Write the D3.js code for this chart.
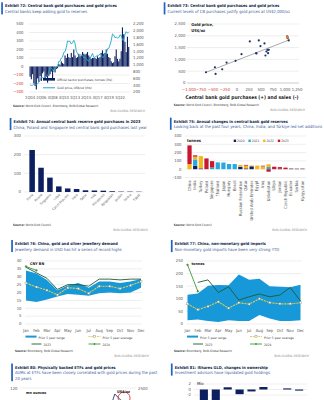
<!DOCTYPE html>
<html><head><meta charset="utf-8">
<script src="https://cdn.jsdelivr.net/npm/d3@7"></script>
<style>html,body{margin:0;padding:0;background:#fff;} svg{display:block;}</style>
</head><body>
<svg id="c" width="324" height="400"></svg>
<script>
// ---------------- DATA ----------------
// Exhibit 72 – quarterly, 1Q04 .. 4Q23
const ex72Years = [2004,2005,2006,2007,2008,2009,2010,2011,2012,2013,2014,2015,2016,2017,2018,2019,2020,2021,2022,2023];
const ex72Purchases = [
 -120,-150,-90,-200, -230,-270,-140,-180, -110,-170,-80,-60, -140,-120,-190,-110,
 -90,-60,-150,-40, -70,-30,-20,30, 20,60,40,30, 130,100,150,110,
 100,160,110,200, 130,100,110,150, 120,130,170,150, 140,150,170,130,
 110,90,100,100, 100,90,120,100, 110,160,190,150, 160,200,150,110,
 100,60,40,50, 120,200,90,60, 90,180,460,380, 290,170,350,230];
const ex72Gold = [
 410,395,400,435, 427,427,440,485, 554,628,622,614, 650,667,680,788,
 925,896,872,795, 908,922,960,1100, 1109,1197,1227,1367, 1386,1506,1702,1688,
 1691,1609,1652,1718, 1632,1415,1326,1272, 1293,1288,1282,1201, 1218,1192,1124,1105,
 1183,1260,1335,1222, 1219,1257,1278,1275, 1329,1306,1213,1226, 1304,1310,1472,1481,
 1583,1711,1909,1874, 1794,1816,1789,1795, 1877,1871,1729,1726, 1890,1976,1928,1971];
const ex72TickLabels = ["1Q04","2Q06","3Q08","4Q10","1Q13","2Q15","3Q17","4Q19","1Q22"];
const ex72LeftTicks = [500,400,300,200,100,0,-100,-200,-300];
const ex72RightTicks = [2200,2000,1800,1600,1400,1200,1000,800,600,400,200];

// Exhibit 73 – scatter
const ex73Purch = [-647,-460,-446,-308,-217,-30,94,267,399,406,454,489,572,593,613,634,648,662,1043,1057,1077];
const ex73Price = [455,668,384,582,866,938,1222,1761,1264,1250,1804,1563,1676,1165,1335,1406,1264,1406,1974,1903,1804];
const ex73Latest = [1050,1945];
const ex73TrendX = [-650,1100];
const ex73TrendY = [450,1835];
const ex73XTicks = [-1000,-750,-500,-250,0,250,500,750,1000,1250];
const ex73YTicks = [0,500,1000,1500,2000,2500];

// Exhibit 74
const ex74Countries = ["China","Poland","Singapore","Libya","Czech Republic","India","Qatar","Iraq","Philippines","Kyrgyzstan","Jordan","Serbia","Egypt"];
const ex74Values = [225,130,77,30,19,16,9,8,7,4,2,2,1.5];
const ex74Ticks = [0,100,200,300];

// Exhibit 75
const ex75Countries = ["China","India","Turkey","Poland","Singapore","Thailand","Japan","Hungary","Brazil","Russian Federation","Qatar","United Arab Emirates","Egypt","Iraq","Uzbekistan","Libya","Jordan","Czech Republic","Ecuador","Serbia","Kyrgyzstan"];
const ex75Y2020 = [0,41,10,0,0,0,0,0,0,28,10,35,0,0,0,0,5,0,4,3,2];
const ex75Y2021 = [0,77,0,0,20,82,80,63,62,3,0,0,0,0,26,0,0,0,2,2,2];
const ex75Y2022 = [62,33,148,0,0,0,0,0,0,21,33,10,44,34,34,0,0,0,0,1,3];
const ex75Y2023 = [225,16,0,130,77,0,0,0,0,0,9,0,0,8,-30,30,20,19,4,3,4];
const ex75Years = ["2020","2021","2022","2023"];
const ex75Ticks = [-100,0,100,200,300,400];

// Exhibit 76 – China jewellery demand, CNY bn
const months = ["Jan","Feb","Mar","Apr","May","Jun","Jul","Aug","Sep","Oct","Nov","Dec"];
const ex76Max = [34,32,28,21.5,24.5,26,23,27,27,26,27,28.5];
const ex76Min = [15,14,15.5,17.5,19,18.5,18,19.5,20,19.5,20,23];
const ex76Avg = [26,23.5,21.5,18.5,23,22.5,19.5,24,24,22.5,24.5,27];
const ex76Y2023 = [36,32.5,29,22,25,25,24,28.5,28.5,28,28.5,28.5];
const ex76Y2024 = [36.5,34];
const ex76Ticks = [0,5,10,15,20,25,30,35,40];

// Exhibit 77 – China non-monetary gold imports, tonnes
const ex77Max = [116,121,152,155,154,196,176,180,150,148,146,156];
const ex77Min = [15,18,12,8,15,12,12,36,22,12,12,15];
const ex77Avg = [80,57,70,88,63,84,79,100,85,80,80,84];
const ex77Y2023 = [null,165,175,125,148,95,108,119,108,115,145,91];
const ex77Y2024 = [235,130];
const ex77Ticks = [0,50,100,150,200,250];

// Exhibit 80 – ETF holdings (mn oz), annual
const ex80Years = [2004,2005,2006,2007,2008,2009,2010,2011,2012,2013,2014,2015,2016,2017,2018,2019,2020,2021,2022,2023,2024];
const ex80Holdings = [4,10,20,30,38,55,65,72,85,60,53,48,60,65,67,80,110,100,95,85,83];
const ex80Circle = [2021.6,2080];

// Exhibit 81 – GLD ownership changes (mio)
const ex81Cats = ["A","B","C","D","E","F","G","H","I"];
const ex81Values = [-8,-8,0.8,-1.7,-0.7,0.9,0,0.4,-0.4];
const ex81Ticks = [2,0,-2];

// ---------------- STYLE ----------------
const F = "'Liberation Sans Narrow','DejaVu Sans Condensed','Roboto Condensed','Liberation Sans',sans-serif";
const navy = "#0d1f5e", teal = "#23a6c9", band = "#1798d8", titleCol = "#0b1b45", subCol = "#41609a";
const accent = "#1d62c4", grid = "#dcdcdc", tickCol = "#555", neg = "#d33a2f";
const c2020 = "#0d1f5e", c2021 = "#27a9df", c2022 = "#f4b71c", c2023 = "#c8172f";
const svg = d3.select("#c");
svg.append("rect").attr("width",324).attr("height",400).attr("fill","#fff");
const refs = {};

function txt(g,x,y,s,o={}){
  const t=g.append("text").attr("x",x).attr("y",y).text(s).attr("font-family",F)
    .attr("font-size",o.size||3.8).attr("fill",o.fill||tickCol).attr("text-anchor",o.anchor||"start")
    .attr("font-weight",o.weight||"normal").attr("class",o.cls||"tick");
  if(o.rotate!=null) t.attr("transform",`rotate(${o.rotate},${x},${y})`);
  return t;
}
function header(x,y,title,subs){
  svg.append("rect").attr("x",x-3.8).attr("y",y-5).attr("width",1.7).attr("height",6.5+subs.length*5.6).attr("fill",accent);
  const t=txt(svg,x,y,title,{size:4.7,weight:"bold",fill:titleCol,cls:"title"});
  const ss=subs.map((s,i)=>txt(svg,x,y+5.5*(i+1),s,{size:4.4,fill:subCol,cls:"sub"}));
  return [t,ss[0]];
}
function source(x,y,s,rx){
  const t=svg.append("text").attr("x",x).attr("y",y).attr("font-family",F).attr("font-size",3.1).attr("fill","#333").attr("class","src");
  t.append("tspan").attr("font-weight","bold").text("Source: ");
  t.append("tspan").text(s);
  const b=txt(svg,rx,y+5.2,"BofA GLOBAL RESEARCH",{size:2.8,anchor:"end",fill:"#8a8a8a",cls:"bofa"});
  return [t,b];
}
function hgrid(g,scale,ticks,x0,x1,col){
  g.selectAll(null).data(ticks).join("line").attr("x1",x0).attr("x2",x1)
   .attr("y1",d=>scale(d)).attr("y2",d=>scale(d)).attr("stroke",col||grid).attr("stroke-width",0.5);
}

// ---------------- EXHIBIT 72 ----------------
(function(){
  const h=header(5,7.3,"Exhibit 72: Central bank gold purchases and gold prices",["Central banks keep adding gold to reserves"]);
  refs.title=[h[0],112]; refs.sub=[h[1],82];
  const g=svg.append("g");
  const q=[]; ex72Years.forEach(y=>[1,2,3,4].forEach(k=>q.push(k+"Q"+String(y).slice(2))));
  const x=d3.scaleBand().domain(q).range([29.4,129.4]).padding(0.12);
  const yL=d3.scaleLinear().domain([-300,500]).range([92,24]);
  const yR=d3.scaleLinear().domain([200,2200]).range([92,24]);
  hgrid(g,yL,ex72LeftTicks,29,130);
  g.selectAll(null).data(ex72Purchases).join("rect")
   .attr("x",(d,i)=>x(q[i])).attr("width",x.bandwidth())
   .attr("y",d=>yL(Math.max(0,d))).attr("height",d=>Math.abs(yL(d)-yL(0))).attr("fill",navy);
  g.append("path").datum(ex72Gold).attr("fill","none").attr("stroke",teal).attr("stroke-width",0.9)
   .attr("d",d3.line().x((d,i)=>x(q[i])+x.bandwidth()/2).y(d=>yR(d)));
  ex72LeftTicks.forEach(t=>txt(g,23.5,yL(t)+1.3,d3.format(",")(t),{anchor:"end",fill:t<0?neg:tickCol}));
  ex72RightTicks.forEach(t=>{const n=txt(g,133,yR(t)+1.3,d3.format(",")(t)); if(t===2200) refs.tick=[n,10.7];});
  ex72TickLabels.forEach(l=>txt(g,x(l)+x.bandwidth()/2,99,l,{anchor:"middle"}));
  g.append("rect").attr("x",43).attr("y",78).attr("width",12).attr("height",2.6).attr("fill",navy);
  refs.leg=[txt(g,57,80.8,"Official sector purchases, tonnes (lhs)",{size:3.7,fill:"#333",cls:"leg"}),55];
  g.append("line").attr("x1",43).attr("x2",55).attr("y1",87.8).attr("y2",87.8).attr("stroke",teal).attr("stroke-width",1);
  txt(g,57,89,"Gold price, US$/oz (rhs)",{size:3.7,fill:"#333",cls:"leg"});
  const s=source(13,107,"World Gold Council, Bloomberg, BofA Global Research",145);
  refs.src=[s[0],85]; refs.bofa=[s[1],35];
})();

// ---------------- EXHIBIT 73 ----------------
(function(){
  header(167.5,7.3,"Exhibit 73: Central bank gold purchases and gold prices",["Current levels of CB purchases justify gold prices at US$2,000/oz"]);
  const g=svg.append("g");
  const x=d3.scaleLinear().domain([-1000,1250]).range([189,297]);
  const y=d3.scaleLinear().domain([0,2500]).range([83,24]);
  hgrid(g,y,ex73YTicks.filter(d=>d>0),187,299);
  g.append("line").attr("x1",187).attr("x2",299).attr("y1",y(0)).attr("y2",y(0)).attr("stroke","#999").attr("stroke-width",0.5);
  ex73YTicks.forEach(t=>txt(g,185.3,y(t)+1.3,d3.format(",")(t),{anchor:"end"}));
  ex73XTicks.forEach(t=>txt(g,x(t),90.6,d3.format(",")(t),{anchor:"middle",fill:t<0?neg:tickCol}));
  g.append("line").attr("x1",x(ex73TrendX[0])).attr("x2",x(ex73TrendX[1]))
   .attr("y1",y(ex73TrendY[0])).attr("y2",y(ex73TrendY[1])).attr("stroke","#555").attr("stroke-width",0.5);
  g.selectAll(null).data(ex73Purch).join("circle").attr("cx",d=>x(d)).attr("cy",(d,i)=>y(ex73Price[i]))
   .attr("r",1.1).attr("fill","#1e3466");
  g.append("circle").attr("cx",x(ex73Latest[0])).attr("cy",y(ex73Latest[1])).attr("r",1.6).attr("fill","#e8762b");
  refs.gp=[txt(g,191.3,26,"Gold price,",{size:4.2,weight:"bold",fill:"#222",cls:"gp"}),22];
  txt(g,191.3,31.7,"US$/oz",{size:4.2,weight:"bold",fill:"#222",cls:"gp"});
  refs.bold=[txt(g,242,99,"Central bank gold purchases (+) and sales (-)",{size:4.4,weight:"bold",fill:"#222",anchor:"middle",cls:"bold"}),113];
  source(173.7,105.5,"World Gold Council, Bloomberg, BofA Global Research",305);
})();

// ---------------- EXHIBIT 74 ----------------
(function(){
  header(13.5,123,"Exhibit 74: Annual central bank reserve gold purchases in 2023",["China, Poland and Singapore led central bank gold purchases last year"]);
  const g=svg.append("g");
  const x=d3.scaleBand().domain(ex74Countries).range([26,145]).padding(0.38);
  const y=d3.scaleLinear().domain([0,300]).range([192,136]);
  hgrid(g,y,ex74Ticks,24,145);
  ex74Ticks.forEach(t=>txt(g,21,y(t)+1.3,t,{anchor:"end"}));
  g.selectAll(null).data(ex74Values).join("rect").attr("x",(d,i)=>x(ex74Countries[i])).attr("width",x.bandwidth())
   .attr("y",d=>y(d)).attr("height",d=>y(0)-y(d)).attr("fill",navy);
  ex74Countries.forEach(c=>{const n=txt(g,x(c)+x.bandwidth()/2+1.5,195,c,{anchor:"end",rotate:-45,cls:"cat74"});
    if(c==="Czech Republic") refs.cat74=[n,22];});
  source(13,225.7,"World Gold Council",148);
})();

// ---------------- EXHIBIT 75 ----------------
(function(){
  header(173.7,122.7,"Exhibit 75: Annual changes in central bank gold reserves",["Looking back at the past four years, China, India, and Türkiye led net additions"]);
  const g=svg.append("g");
  const rows=ex75Countries.map((c,i)=>({c,"2020":ex75Y2020[i],"2021":ex75Y2021[i],"2022":ex75Y2022[i],"2023":ex75Y2023[i]}));
  const st=d3.stack().keys(ex75Years).offset(d3.stackOffsetDiverging)(rows);
  const x=d3.scaleBand().domain(ex75Countries).range([186,306]).padding(0.25);
  const y=d3.scaleLinear().domain([-100,400]).range([177.5,136]);
  const col=d3.scaleOrdinal().domain(ex75Years).range([c2020,c2021,c2022,c2023]);
  hgrid(g,y,ex75Ticks,185,306);
  ex75Ticks.forEach(t=>txt(g,181.5,y(t)+1.3,t,{anchor:"end"}));
  st.forEach(s=>{
    g.selectAll(null).data(s).join("rect").attr("x",d=>x(d.data.c)).attr("width",x.bandwidth())
     .attr("y",d=>y(Math.max(d[0],d[1]))).attr("height",d=>Math.abs(y(d[0])-y(d[1]))).attr("fill",col(s.key));
  });
  ex75Countries.forEach(c=>txt(g,x(c)+x.bandwidth()/2+1.2,180.5,c,{anchor:"end",rotate:-90}));
  refs.lab=[txt(g,187,142.3,"tonnes",{size:3.9,weight:"bold",fill:"#222",cls:"lab"}),14];
  ex75Years.forEach((k,i)=>{
    const lx=233.7+i*14.7;
    g.append("rect").attr("x",lx).attr("y",139.6).attr("width",2.4).attr("height",2.4).attr("fill",col(k));
    txt(g,lx+3.4,142.3,k,{size:3.7,fill:"#333",cls:"leg"});
  });
  source(173.7,225.7,"World Gold Council",307);
})();

// ---------------- EXHIBIT 76 / 77 (seasonal) ----------------
function seasonal(o){
  header(o.hx,o.hy,o.title,[o.sub]);
  const g=svg.append("g");
  const x=d3.scalePoint().domain(months).range([o.x0,o.x1]);
  const y=d3.scaleLinear().domain([0,o.top]).range([324,261]);
  hgrid(g,y,o.ticks,o.x0-1,o.x1+1);
  o.ticks.forEach(t=>txt(g,o.x0-4.5,y(t)+1.3,t,{anchor:"end"}));
  g.append("path").datum(months).attr("fill",band)
   .attr("d",d3.area().x(m=>x(m)).y0((m,i)=>y(o.min[i])).y1((m,i)=>y(o.max[i])));
  g.append("path").datum(o.y23).attr("fill","none").attr("stroke","#1c5b36").attr("stroke-width",0.9)
   .attr("d",d3.line().defined(d=>d!=null).x((d,i)=>x(months[i])).y(d=>y(d)));
  g.append("path").datum(o.avg).attr("fill","none").attr("stroke","#d9cf45").attr("stroke-width",1.1)
   .attr("stroke-dasharray","2.2,0.8").attr("d",d3.line().x((d,i)=>x(months[i])).y(d=>y(d)));
  g.selectAll(null).data(o.avg).join("rect").attr("x",(d,i)=>x(months[i])-1).attr("y",d=>y(d)-1)
   .attr("width",2).attr("height",2).attr("fill","#fff").attr("stroke","#777").attr("stroke-width",0.35);
  g.append("path").datum(o.y24).attr("fill","none").attr("stroke","#3e9a3c").attr("stroke-width",0.9)
   .attr("d",d3.line().x((d,i)=>x(months[i])).y(d=>y(d)));
  g.selectAll(null).data(o.y24).join("circle").attr("cx",(d,i)=>x(months[i])).attr("cy",d=>y(d)).attr("r",0.9)
   .attr("fill","#3e9a3c").attr("stroke","#2e6d2d").attr("stroke-width",0.3);
  txt(g,o.x0+4,265,o.unit,{size:3.6,weight:"bold",fill:"#111",cls:"lab"});
  months.forEach(m=>txt(g,x(m),332,m,{anchor:"middle"}));
  const b=o.x0-0.5;
  g.append("rect").attr("x",b).attr("y",335.6).attr("width",11).attr("height",2).attr("fill",band);
  txt(g,b+13,338.5,"Prior 5 year range",{size:3.7,fill:"#333",cls:"leg"});
  g.append("line").attr("x1",b+63).attr("x2",b+75).attr("y1",336.6).attr("y2",336.6).attr("stroke","#d9cf45").attr("stroke-width",1).attr("stroke-dasharray","2,0.8");
  g.append("rect").attr("x",b+68).attr("y",335.6).attr("width",2).attr("height",2).attr("fill","#fff").attr("stroke","#777").attr("stroke-width",0.35);
  txt(g,b+77,338.5,"Prior 5 year average",{size:3.7,fill:"#333",cls:"leg"});
  g.append("line").attr("x1",b+6).attr("x2",b+16).attr("y1",344).attr("y2",344).attr("stroke","#1c5b36").attr("stroke-width",0.9);
  txt(g,b+18,345.5,"2023",{size:3.7,fill:"#333",cls:"leg"});
  g.append("line").attr("x1",b+63).attr("x2",b+75).attr("y1",344).attr("y2",344).attr("stroke","#3e9a3c").attr("stroke-width",0.9);
  g.append("circle").attr("cx",b+69).attr("cy",344).attr("r",0.9).attr("fill","#3e9a3c");
  txt(g,b+77,345.5,"2024",{size:3.7,fill:"#333",cls:"leg"});
  source(o.sx,352,"Bloomberg, BofA Global Research",o.rx);
}
seasonal({hx:15,hy:245,title:"Exhibit 76: China, gold and silver jewellery demand",sub:"Jewellery demand in USD has hit a series of record highs",
  x0:26,x1:141,top:40,ticks:ex76Ticks,min:ex76Min,max:ex76Max,avg:ex76Avg,y23:ex76Y2023,y24:ex76Y2024,unit:"CNY BN",sx:15,rx:149});
seasonal({hx:174.7,hy:245,title:"Exhibit 77: China, non-monetary gold imports",sub:"Non-monetary gold imports have been very strong YTD",
  x0:187.5,x1:300.5,top:250,ticks:ex77Ticks,min:ex77Min,max:ex77Max,avg:ex77Avg,y23:ex77Y2023,y24:ex77Y2024,unit:"tonnes",sx:174,rx:309});

// ---------------- EXHIBIT 80 ----------------
(function(){
  header(15,368.5,"Exhibit 80: Physically backed ETFs and gold prices",["AUMs at ETFs have been closely correlated with gold prices during the past","20 years"]);
  const g=svg.append("g");
  const x=d3.scaleLinear().domain([2004,2024]).range([22,138]);
  const yL=d3.scaleLinear().domain([100,120]).range([400,388]);
  const yR=d3.scaleLinear().domain([2000,2500]).range([400,388]);
  g.append("line").attr("x1",20).attr("x2",136).attr("y1",yL(120)).attr("y2",yL(120)).attr("stroke",grid).attr("stroke-width",0.5);
  txt(g,17.5,389.5,"120",{anchor:"end"});
  txt(g,138,389.5,"2500");
  g.append("path").datum(ex80Holdings).attr("fill","none").attr("stroke",navy).attr("stroke-width",0.8)
   .attr("d",d3.line().x((d,i)=>x(ex80Years[i])).y(d=>yL(d)));
  g.append("circle").attr("cx",x(ex80Circle[0])).attr("cy",yR(ex80Circle[1])).attr("r",6).attr("fill","none").attr("stroke","#d9262c").attr("stroke-width",0.8);
  txt(g,26,394,"mn ounces",{size:3.6,weight:"bold",fill:"#111",cls:"lab"});
  txt(g,117,393,"US$/oz",{size:3.6,weight:"bold",fill:"#111",cls:"lab"});
})();

// ---------------- EXHIBIT 81 ----------------
(function(){
  header(174.7,368.5,"Exhibit 81: iShares GLD, changes in ownership",["Investment advisors have liquidated gold holdings"]);
  const g=svg.append("g");
  const x=d3.scaleBand().domain(ex81Cats).range([196,307]).padding(0.32);
  const y=d3.scaleLinear().domain([-2,2]).range([395,384]);
  hgrid(g,y,ex81Ticks,194,307);
  ex81Ticks.forEach(t=>txt(g,191,y(t)+1.4,t,{anchor:"end"}));
  g.selectAll(null).data(ex81Values).join("rect").attr("x",(d,i)=>x(ex81Cats[i])).attr("width",x.bandwidth())
   .attr("y",d=>y(Math.max(0,d))).attr("height",d=>Math.abs(y(d)-y(0))).attr("fill",navy);
  txt(g,197,385.3,"Mio",{fill:"#111"});
})();

// ---- fit text sizes per text class to reference widths ----
Object.keys(refs).forEach(cls=>{
  const [node,target]=refs[cls];
  const w=node.node().getComputedTextLength();
  const k=Math.max(0.6,Math.min(1.4,target/w));
  svg.selectAll("text."+cls).each(function(){
    const s=+this.getAttribute("font-size"); this.setAttribute("font-size",(s*k).toFixed(2));
  });
});
</script></body></html>
